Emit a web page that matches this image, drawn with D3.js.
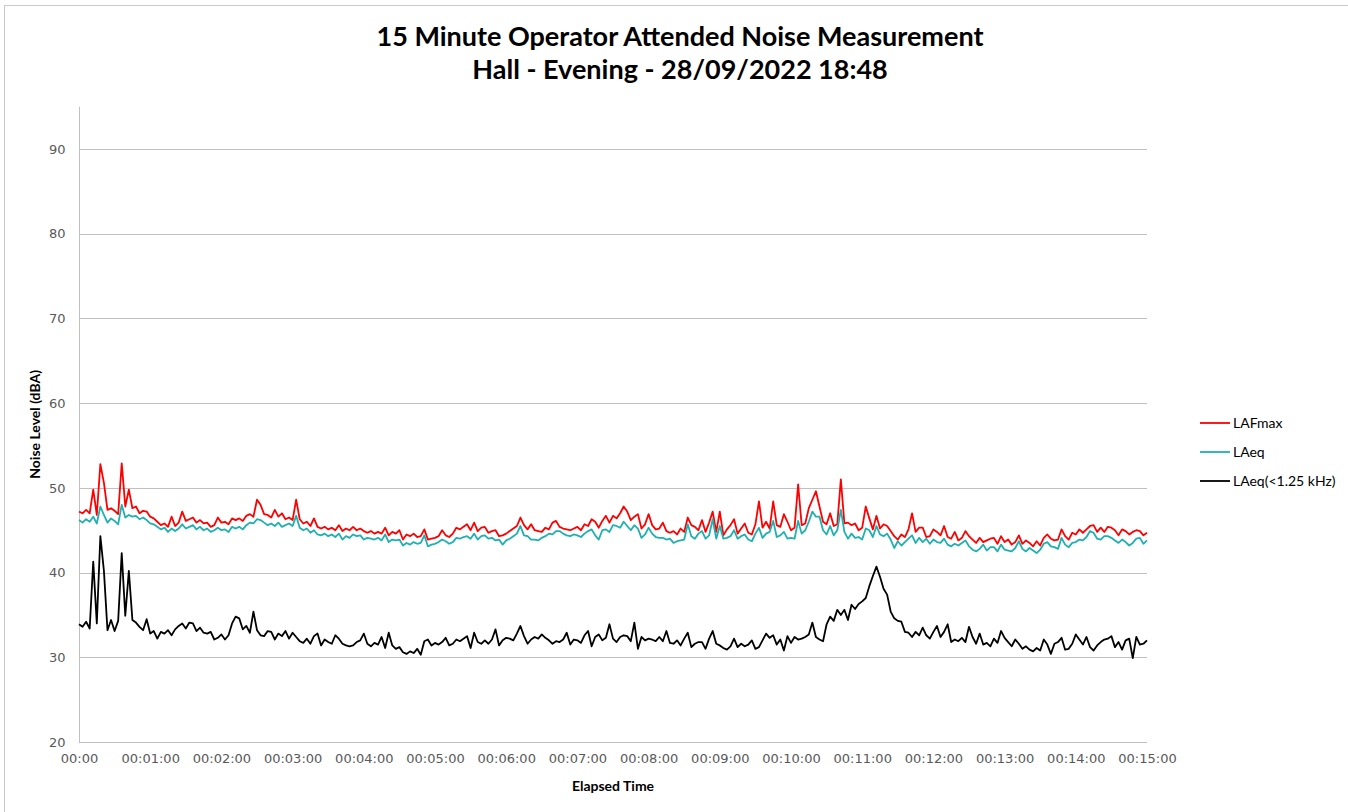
<!DOCTYPE html>
<html>
<head>
<meta charset="utf-8">
<script src="https://cdn.jsdelivr.net/npm/d3@7"></script>
<style>
  html, body { margin: 0; padding: 0; background: #ffffff; }
  svg { display: block; }
</style>
</head>
<body>
<svg id="chart" width="1348" height="812"></svg>
<script>
// ---- DATA (3-second samples, 0 .. 900 s) ----
const titleLines = ["15 Minute Operator Attended Noise Measurement", "Hall - Evening - 28/09/2022 18:48"];
const seriesNames = ["LAFmax", "LAeq", "LAeq(<1.25 kHz)"];
const sampleInterval = 3;
const xTickSeconds = [0, 60, 120, 180, 240, 300, 360, 420, 480, 540, 600, 660, 720, 780, 840, 900];
const xTickLabels = ["00:00", "00:01:00", "00:02:00", "00:03:00", "00:04:00", "00:05:00", "00:06:00", "00:07:00",
  "00:08:00", "00:09:00", "00:10:00", "00:11:00", "00:12:00", "00:13:00", "00:14:00", "00:15:00"];
const yTickValues = [20, 30, 40, 50, 60, 70, 80, 90];

const lafmax = [
  47.2, 47.0, 47.4, 47.0, 49.8, 46.8, 52.8, 50.6, 47.4, 47.6,
  47.3, 46.9, 52.9, 47.8, 49.8, 47.6, 47.8, 47.0, 47.3, 47.2,
  46.6, 46.4, 46.0, 45.6, 45.8, 45.4, 46.6, 45.5, 45.9, 47.2,
  46.1, 46.3, 46.5, 45.9, 46.2, 45.8, 45.9, 45.4, 45.6, 46.5,
  45.9, 46.0, 45.7, 46.4, 46.2, 46.4, 46.1, 46.7, 46.9, 46.6,
  48.6, 48.0, 46.9, 46.8, 46.5, 47.4, 46.6, 47.0, 46.3, 46.5,
  46.2, 48.6, 46.3, 45.8, 46.0, 45.5, 46.4, 45.4, 45.2, 45.4,
  45.1, 45.3, 45.0, 45.6, 44.9, 45.2, 45.0, 45.4, 45.0, 45.2,
  44.9, 44.7, 44.9, 44.6, 44.8, 44.6, 45.3, 44.4, 44.8, 44.6,
  45.0, 43.9, 44.5, 44.3, 44.6, 44.2, 44.3, 45.1, 43.9, 44.0,
  44.1, 44.3, 45.0, 44.4, 44.2, 44.6, 45.3, 45.1, 45.4, 45.7,
  45.0, 45.9, 44.9, 45.3, 45.4, 44.7, 44.9, 45.0, 44.3, 44.4,
  44.6, 44.9, 45.2, 45.5, 46.5, 45.6, 45.1, 45.7, 45.0, 44.9,
  44.8, 45.3, 45.1, 45.9, 46.1, 45.4, 45.2, 45.1, 45.0, 45.2,
  45.4, 45.0, 45.7, 45.5, 46.3, 46.0, 45.3, 46.1, 46.7, 45.9,
  46.7, 46.4, 47.0, 47.8, 47.2, 46.2, 46.6, 46.9, 45.2, 45.7,
  46.9, 45.6, 45.1, 45.2, 45.9, 44.9, 44.7, 44.9, 44.5, 45.2,
  44.8, 46.5, 45.6, 45.4, 45.0, 46.2, 44.8, 45.9, 47.2, 44.8,
  47.2, 44.4, 45.1, 45.6, 46.3, 44.6, 45.2, 45.8, 44.7, 44.5,
  45.7, 48.4, 45.3, 46.0, 45.2, 48.4, 45.6, 45.4, 46.9, 46.0,
  45.0, 45.3, 50.4, 45.6, 45.8, 47.6, 48.6, 49.6, 47.8, 46.0,
  45.7, 47.0, 45.5, 45.7, 51.0, 45.8, 45.9, 45.6, 45.8, 45.0,
  45.3, 47.8, 46.4, 45.1, 46.7, 45.2, 45.7, 45.5, 44.9, 44.3,
  43.9, 44.5, 44.2, 45.1, 47.0, 44.8, 45.3, 45.3, 44.2, 44.3,
  45.1, 44.8, 44.4, 45.5, 44.2, 44.0, 44.8, 43.8, 44.1, 44.9,
  44.3, 43.9, 43.5, 44.1, 43.6, 43.8, 44.0, 44.1, 43.4, 44.3,
  43.6, 43.9, 43.3, 43.6, 44.4, 43.4, 43.8, 43.5, 43.1, 43.7,
  43.2, 44.1, 44.5, 44.0, 43.8, 43.9, 45.1, 44.3, 43.9, 44.7,
  44.5, 45.1, 44.7, 45.1, 45.5, 45.6, 44.8, 45.3, 44.8, 45.4,
  45.3, 45.0, 44.4, 45.1, 44.9, 44.5, 44.8, 45.0, 44.9, 44.4, 44.7
];

const laeq = [
  46.2, 45.9, 46.3, 46.0, 46.6, 45.8, 47.8, 46.8, 45.9, 46.4,
  46.1, 45.7, 48.0, 46.5, 46.8, 46.6, 46.7, 46.3, 46.5, 46.2,
  45.8, 45.7, 45.4, 45.1, 45.3, 44.8, 45.2, 44.9, 45.2, 45.7,
  45.2, 45.4, 45.6, 45.1, 45.4, 45.0, 45.2, 44.8, 45.0, 45.3,
  45.0, 45.1, 44.8, 45.4, 45.2, 45.4, 45.1, 45.6, 45.9, 45.8,
  46.3, 46.2, 45.9, 45.6, 45.8, 45.5, 45.9, 45.4, 45.6, 45.8,
  45.5, 46.7, 45.3, 45.0, 45.2, 44.7, 45.0, 44.5, 44.4, 44.6,
  44.3, 44.5, 44.2, 44.6, 43.9, 44.3, 44.1, 44.5, 44.3, 44.4,
  43.9, 44.1, 44.0, 43.9, 44.1, 43.8, 44.5, 43.6, 43.9, 43.8,
  43.9, 43.2, 43.5, 43.3, 43.6, 43.4, 43.5, 44.4, 43.1, 43.3,
  43.4, 43.6, 43.9, 43.7, 43.4, 43.6, 44.1, 44.0, 44.2, 44.3,
  44.0, 44.6, 43.9, 44.3, 44.4, 44.0, 44.1, 43.8, 43.9, 43.3,
  43.8, 44.0, 44.3, 44.6, 45.5, 44.4, 44.3, 43.9, 43.9, 43.8,
  44.1, 44.3, 44.6, 44.5, 44.9, 44.9, 44.6, 44.4, 44.3, 44.5,
  44.4, 44.2, 44.6, 44.9, 45.1, 44.4, 43.9, 45.0, 45.1, 44.8,
  45.6, 45.5, 45.3, 46.0, 45.5, 45.0, 45.6, 45.2, 44.1, 44.5,
  45.3, 44.6, 44.2, 44.1, 44.1, 43.9, 44.0, 43.5, 43.7, 43.8,
  43.9, 45.7, 44.3, 44.0, 44.6, 44.9, 44.0, 44.4, 46.3, 44.0,
  45.5, 44.0, 44.1, 44.3, 45.0, 44.0, 44.3, 44.5, 43.9, 43.7,
  44.6, 45.3, 44.1, 44.6, 44.8, 46.1, 44.2, 44.4, 44.8, 44.0,
  44.1, 44.0, 46.1, 44.6, 45.0, 46.0, 47.2, 46.6, 46.6, 45.0,
  44.5, 45.5, 44.4, 45.0, 47.4, 44.8, 44.0, 44.6, 44.1, 44.2,
  43.9, 45.2, 45.0, 44.2, 45.5, 44.5, 44.3, 44.6, 43.9, 42.9,
  43.7, 43.2, 43.6, 44.0, 44.4, 43.5, 44.1, 43.6, 44.0, 43.4,
  43.9, 43.6, 43.5, 44.0, 43.3, 43.1, 43.4, 43.2, 43.5, 43.8,
  43.1, 42.7, 42.5, 42.8, 43.3, 42.6, 43.0, 43.0, 42.5, 43.3,
  42.7, 42.6, 42.5, 42.9, 43.7, 42.8, 42.5, 42.9, 42.6, 42.3,
  42.7, 43.4, 43.6, 43.1, 43.0, 42.8, 44.1, 43.3, 43.0, 43.5,
  43.6, 43.9, 43.8, 44.2, 44.9, 44.7, 44.0, 43.9, 44.3, 44.3,
  44.1, 43.8, 43.5, 43.9, 43.6, 43.2, 43.5, 44.0, 44.1, 43.4, 43.8
];

const laeqLow = [
  33.9, 33.6, 34.2, 33.4, 41.3, 34.0, 44.3, 40.2, 33.2, 34.4,
  33.1, 34.3, 42.3, 34.9, 40.2, 34.4, 34.1, 33.6, 33.2, 34.5,
  32.8, 33.1, 32.2, 33.0, 32.8, 33.2, 32.6, 33.3, 33.7, 34.0,
  33.4, 34.1, 34.0, 33.1, 33.5, 32.9, 32.8, 33.0, 32.1, 32.3,
  32.7, 32.1, 32.6, 34.0, 34.8, 34.6, 33.3, 33.7, 32.9, 35.4,
  33.2, 32.6, 32.5, 33.1, 33.0, 32.1, 32.8, 32.5, 33.1, 32.2,
  32.9, 32.4, 31.9, 31.7, 32.2, 31.6, 32.5, 32.8, 31.4, 32.1,
  31.8, 31.6, 32.6, 32.2, 31.6, 31.4, 31.3, 31.4, 31.8, 32.0,
  32.8, 31.6, 31.3, 31.7, 31.5, 32.4, 31.1, 32.9, 31.4, 31.0,
  31.2, 30.6, 30.4, 30.7, 30.5, 31.0, 30.3, 31.9, 32.1, 31.4,
  31.7, 31.5, 31.8, 32.3, 31.4, 31.6, 32.1, 31.9, 32.2, 32.5,
  31.1, 32.9, 31.8, 31.6, 32.0, 31.6, 32.1, 33.3, 31.4, 32.0,
  32.3, 32.2, 32.0, 32.8, 33.7, 32.5, 31.6, 32.1, 32.4, 32.2,
  32.7, 32.3, 32.0, 31.6, 31.9, 31.8, 32.1, 32.9, 31.5, 32.1,
  32.0, 31.7, 32.6, 33.1, 31.3, 32.4, 32.7, 32.0, 32.3, 33.9,
  32.2, 31.8, 32.4, 32.6, 32.5, 31.9, 34.1, 31.0, 32.4, 32.0,
  32.2, 32.1, 31.9, 32.4, 31.9, 33.1, 31.7, 31.6, 32.0, 31.4,
  32.2, 32.9, 31.2, 31.6, 31.8, 31.8, 31.0, 32.2, 33.1, 31.6,
  31.4, 31.1, 30.9, 31.3, 32.2, 31.2, 31.6, 31.3, 31.5, 32.0,
  31.0, 31.2, 32.0, 32.8, 32.3, 32.6, 31.5, 32.1, 30.8, 32.5,
  31.7, 32.4, 32.1, 32.2, 32.4, 32.7, 34.1, 32.4, 32.1, 31.9,
  33.9, 34.8, 34.3, 35.6, 35.0, 35.6, 34.4, 36.2, 35.7, 36.3,
  36.6, 37.0, 38.4, 39.6, 40.7, 39.5, 38.1, 37.4, 35.4, 34.6,
  34.3, 34.2, 33.0, 32.9, 32.4, 33.0, 32.6, 33.5, 32.6, 32.2,
  33.0, 33.7, 32.4, 33.0, 33.9, 31.8, 32.1, 31.9, 32.3, 31.8,
  33.6, 32.4, 31.6, 32.8, 31.5, 31.7, 31.3, 32.2, 31.7, 33.1,
  32.3, 31.8, 31.3, 32.1, 31.6, 31.0, 31.3, 30.9, 30.7, 31.1,
  30.8, 32.1, 31.5, 30.4, 31.6, 31.8, 32.3, 30.9, 31.0, 31.6,
  32.7, 32.1, 31.5, 32.4, 31.2, 30.8, 31.4, 31.8, 32.1, 32.2,
  32.5, 31.2, 31.8, 30.9, 32.0, 32.2, 29.9, 32.4, 31.5, 31.6, 32.0
];

const seriesColors = ["#ff0000", "#1fb0b0", "#000000"];

// ---- CHART ----
const svg = d3.select("#chart");
const plot = { left: 79, right: 1147, top: 106.7, bottom: 742 };

const x = d3.scaleLinear().domain([0, 900]).range([plot.left, plot.right]);
const y = d3.scaleLinear().domain([20, 95]).range([plot.bottom, plot.top]);

// outer chart border
svg.append("rect")
  .attr("x", 4.5).attr("y", 5.5).attr("width", 1400).attr("height", 900)
  .attr("fill", "none").attr("stroke", "#c9c9c9").attr("stroke-width", 1);

// gridlines
svg.append("g").selectAll("line")
  .data(yTickValues.filter(v => v > 20))
  .join("line")
  .attr("x1", plot.left).attr("x2", plot.right)
  .attr("y1", d => Math.round(y(d)) + 0.5).attr("y2", d => Math.round(y(d)) + 0.5)
  .attr("stroke", "#c0c0c0").attr("stroke-width", 1);

// y axis
const yAxis = svg.append("g")
  .attr("transform", `translate(${plot.left + 0.5},0)`)
  .call(d3.axisLeft(y).tickValues(yTickValues).tickSize(0).tickPadding(14));
yAxis.select(".domain").attr("stroke", "#c0c0c0").attr("d", `M0,${plot.top}V${plot.bottom}`);
yAxis.selectAll("text")
  .attr("font-family", "'DejaVu Sans', Verdana, sans-serif")
  .attr("font-size", 13).attr("fill", "#595959");

// x axis
const xAxis = svg.append("g")
  .attr("transform", `translate(0,${plot.bottom + 0.5})`)
  .call(d3.axisBottom(x).tickValues(xTickSeconds).tickFormat((d, i) => xTickLabels[i]).tickSize(0).tickPadding(11));
xAxis.select(".domain").attr("stroke", "#c0c0c0").attr("d", `M${plot.left},0H${plot.right}`);
xAxis.selectAll("text")
  .attr("font-family", "'DejaVu Sans', Verdana, sans-serif")
  .attr("font-size", 13).attr("fill", "#595959");

// series lines
const allSeries = [lafmax, laeq, laeqLow];
const line = d3.line()
  .x((d, i) => x(i * sampleInterval))
  .y(d => y(d));

svg.append("g").selectAll("path")
  .data(allSeries)
  .join("path")
  .attr("d", d => line(d))
  .attr("fill", "none")
  .attr("stroke", (d, i) => seriesColors[i])
  .attr("stroke-width", 1.8)
  .attr("stroke-linejoin", "round");

// title
const title = svg.append("text")
  .attr("x", 680).attr("y", 46)
  .attr("text-anchor", "middle")
  .attr("font-family", "Lato, 'Open Sans', sans-serif")
  .attr("font-weight", "bold")
  .attr("font-size", 27)
  .attr("fill", "#000");
title.selectAll("tspan").data(titleLines).join("tspan")
  .attr("x", 680).attr("dy", (d, i) => i === 0 ? 0 : 33)
  .text(d => d);

// axis titles
svg.append("text")
  .attr("x", plot.left + (plot.right - plot.left) / 2).attr("y", 791)
  .attr("text-anchor", "middle")
  .attr("font-family", "Lato, 'Open Sans', sans-serif")
  .attr("font-weight", "bold").attr("font-size", 14)
  .attr("fill", "#000")
  .text("Elapsed Time");

svg.append("text")
  .attr("transform", `translate(40,${(plot.top + plot.bottom) / 2}) rotate(-90)`)
  .attr("text-anchor", "middle")
  .attr("font-family", "Lato, 'Open Sans', sans-serif")
  .attr("font-weight", "bold").attr("font-size", 14)
  .attr("fill", "#000")
  .text("Noise Level (dBA)");

// legend
const legend = svg.append("g").attr("transform", "translate(1200,423)");
const items = legend.selectAll("g").data(seriesNames).join("g")
  .attr("transform", (d, i) => `translate(0,${i * 29})`);
items.append("line")
  .attr("x1", 0).attr("x2", 30).attr("y1", 0).attr("y2", 0)
  .attr("stroke", (d, i) => seriesColors[i]).attr("stroke-width", 1.8);
items.append("text")
  .attr("x", 33).attr("y", 5)
  .attr("font-family", "Lato, 'Open Sans', sans-serif")
  .attr("font-size", 14).attr("fill", "#000")
  .text(d => d);
</script>
</body>
</html>
